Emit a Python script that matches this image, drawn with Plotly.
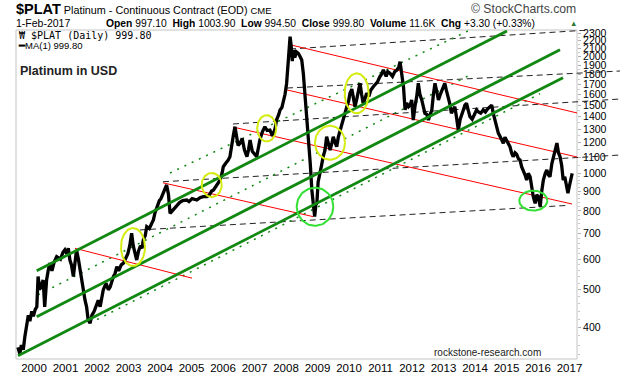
import numpy as np
import plotly.graph_objects as go

# ---------------- data ----------------
price_year = [1999.49, 1999.55, 1999.60, 1999.66, 1999.71, 1999.77, 1999.82, 1999.87, 1999.93, 1999.98,
    2000.04, 2000.09, 2000.13, 2000.18, 2000.24, 2000.29, 2000.34, 2000.40, 2000.45, 2000.50,
    2000.57, 2000.64, 2000.72, 2000.84, 2000.92, 2000.98, 2001.04, 2001.09, 2001.14, 2001.19,
    2001.25, 2001.30, 2001.35, 2001.41, 2001.46, 2001.52, 2001.57, 2001.62, 2001.67, 2001.72,
    2001.78, 2001.84, 2001.91, 2001.99, 2002.04, 2002.10, 2002.15, 2002.20, 2002.29, 2002.36,
    2002.42, 2002.47, 2002.52, 2002.57, 2002.63, 2002.69, 2002.77, 2002.84, 2002.91, 2002.98,
    2003.04, 2003.10, 2003.15, 2003.20, 2003.26, 2003.32, 2003.38, 2003.43, 2003.47, 2003.53,
    2003.58, 2003.66, 2003.73, 2003.79, 2003.84, 2003.90, 2003.98, 2004.03, 2004.10, 2004.17,
    2004.21, 2004.27, 2004.32, 2004.39, 2004.45, 2004.53, 2004.62, 2004.72, 2004.85, 2004.92,
    2005.02, 2005.17, 2005.27, 2005.37, 2005.49, 2005.57, 2005.64, 2005.70, 2005.79, 2005.91,
    2005.97, 2006.01, 2006.08, 2006.16, 2006.22, 2006.28, 2006.34, 2006.38, 2006.43, 2006.48,
    2006.54, 2006.61, 2006.68, 2006.76, 2006.81, 2006.86, 2006.93, 2006.97, 2007.07, 2007.17,
    2007.25, 2007.33, 2007.40, 2007.49, 2007.57, 2007.65, 2007.70, 2007.77, 2007.81, 2007.87,
    2007.91, 2007.97, 2008.02, 2008.07, 2008.11, 2008.13, 2008.16, 2008.20, 2008.23, 2008.28,
    2008.33, 2008.39, 2008.45, 2008.50, 2008.55, 2008.61, 2008.66, 2008.71, 2008.77, 2008.82,
    2008.87, 2008.91, 2008.95, 2008.98, 2009.02, 2009.08, 2009.13, 2009.18, 2009.24, 2009.29,
    2009.34, 2009.40, 2009.46, 2009.50, 2009.56, 2009.61, 2009.66, 2009.72, 2009.77, 2009.82,
    2009.88, 2009.93, 2009.99, 2010.03, 2010.09, 2010.13, 2010.19, 2010.25, 2010.31, 2010.35,
    2010.40, 2010.45, 2010.51, 2010.56, 2010.63, 2010.69, 2010.77, 2010.83, 2010.90, 2010.98,
    2011.03, 2011.09, 2011.18, 2011.23, 2011.30, 2011.38, 2011.45, 2011.52, 2011.58, 2011.62,
    2011.66, 2011.70, 2011.73, 2011.78, 2011.83, 2011.89, 2011.94, 2011.99, 2012.04, 2012.10,
    2012.15, 2012.20, 2012.25, 2012.31, 2012.36, 2012.41, 2012.47, 2012.52, 2012.58, 2012.63,
    2012.68, 2012.73, 2012.79, 2012.84, 2012.90, 2012.95, 2013.00, 2013.04, 2013.09, 2013.15,
    2013.21, 2013.25, 2013.31, 2013.36, 2013.41, 2013.47, 2013.53, 2013.58, 2013.63, 2013.68,
    2013.73, 2013.79, 2013.84, 2013.91, 2013.98, 2014.05, 2014.11, 2014.18, 2014.26, 2014.33,
    2014.41, 2014.48, 2014.53, 2014.58, 2014.63, 2014.69, 2014.74, 2014.80, 2014.86, 2014.90,
    2014.95, 2015.00, 2015.05, 2015.11, 2015.16, 2015.21, 2015.27, 2015.32, 2015.38, 2015.43,
    2015.48, 2015.53, 2015.59, 2015.64, 2015.69, 2015.75, 2015.80, 2015.85, 2015.91, 2015.96,
    2016.01, 2016.05, 2016.07, 2016.12, 2016.17, 2016.23, 2016.28, 2016.33, 2016.38, 2016.44,
    2016.50, 2016.55, 2016.60, 2016.65, 2016.70, 2016.75, 2016.80, 2016.85, 2016.90, 2016.95,
    2017.00, 2017.05, 2017.085]
price_usd = [355, 342, 360, 350, 378, 402, 430, 415, 440, 427,
    445, 452, 541, 500, 515, 530, 452, 530, 560, 586,
    560, 590, 609, 600, 625, 634, 620, 640, 597, 580,
    541, 600, 634, 600, 563, 530, 490, 470, 452, 418,
    410, 430, 440, 461, 470, 452, 480, 500, 520, 500,
    509, 530, 541, 550, 574, 560, 580, 586, 600, 620,
    650, 700, 650, 620, 597, 630, 650, 640, 673, 690,
    728, 720, 740, 758, 790, 820, 850, 860, 888, 910,
    933, 880, 788, 800, 810, 820, 840, 850, 853, 845,
    860, 853, 865, 870, 870, 880, 900, 906, 930, 961,
    1000, 1040, 1060, 1080, 1104, 1200, 1269, 1319, 1250, 1180,
    1195, 1230, 1150, 1104, 1150, 1219, 1140, 1130, 1104, 1219,
    1280, 1319, 1290, 1294, 1250, 1300, 1373, 1420, 1458, 1480,
    1517, 1600, 1709, 1924, 2100, 2254, 2150, 1950, 2082, 1990,
    2060, 2042, 2000, 1963, 1813, 1578, 1401, 1219, 1061, 906,
    804, 773, 830, 837, 950, 1020, 1050, 1104, 1150, 1243,
    1200, 1149, 1200, 1243, 1200, 1172, 1240, 1294, 1350, 1401,
    1450, 1486, 1540, 1610, 1650, 1578, 1486, 1560, 1650, 1709,
    1600, 1517, 1560, 1610, 1580, 1640, 1674, 1700, 1720, 1777,
    1800, 1849, 1780, 1830, 1813, 1780, 1830, 1849, 1880, 1943,
    1850, 1750, 1674, 1458, 1520, 1486, 1500, 1547, 1373, 1500,
    1578, 1709, 1600, 1547, 1480, 1429, 1420, 1373, 1420, 1458,
    1600, 1709, 1620, 1547, 1600, 1642, 1680, 1709, 1640, 1578,
    1500, 1429, 1460, 1486, 1400, 1294, 1380, 1430, 1458, 1500,
    1517, 1450, 1401, 1380, 1420, 1458, 1440, 1430, 1458, 1440,
    1470, 1486, 1500, 1429, 1380, 1319, 1270, 1243, 1210, 1195,
    1240, 1219, 1190, 1172, 1130, 1104, 1130, 1120, 1090, 1082,
    1040, 1020, 990, 961, 1000, 980, 906, 870, 836, 880,
    870, 830, 820, 900, 961, 1000, 1020, 990, 980, 1060,
    1104, 1150, 1197, 1130, 1104, 1050, 961, 980, 920, 888,
    930, 980, 1000]

# trend lines: (start year, start price, end year, end price)
green_channel = [(2000.086, 560, 2015.016, 2333),
                 (2000.086, 426, 2016.698, 2085),
                 (1999.492, 338, 2016.794, 1767)]
green_dotted = [(2004.317, 1002, 2015.841, 2804),
                (2000.127, 485, 2013.841, 1795),
                (2001.778, 410, 2016.063, 1605)]
red_lines = [(2001.302, 640, 2005.016, 536),
             (2004.095, 945, 2008.857, 773),
             (2006.317, 1317, 2017.079, 833),
             (2008.032, 1642, 2017.238, 1102),
             (2008.159, 2146, 2017.238, 1432)]
dashed_lines = [(2008.127, 2095, 2018.603, 2374),
                (2008.032, 1661, 2018.603, 1838),
                (2006.317, 1341, 2018.603, 1556),
                (2004.095, 951, 2018.603, 1115),
                (2003.365, 714, 2016.921, 826)]
# ellipses: (left year, right year, low price, high price)
yellow_ellipses = [(2002.762, 2003.524, 576, 722),
                   (2005.324, 2005.959, 869, 1002),
                   (2007.086, 2007.689, 1209, 1413),
                   (2008.921, 2009.873, 1084, 1327),
                   (2009.863, 2010.625, 1429, 1813)]
green_ellipses = [(2008.340, 2009.502, 732, 918),
                  (2015.406, 2016.295, 801, 902)]

year_ticks = list(range(2000, 2018))
price_ticks = [400, 500, 600, 700, 800, 900, 1000, 1100, 1200, 1300, 1400, 1500,
               1600, 1700, 1800, 1900, 2000, 2100, 2200, 2300]
minor_price_ticks = list(range(340, 1000, 20)) + list(range(1000, 2350, 50))

# ---------------- figure ----------------
fig = go.Figure()

def add_lines(lines, color, width, dash):
    for x0, p0, x1, p1 in lines:
        fig.add_trace(go.Scatter(x=[x0, x1], y=[p0, p1], mode="lines",
                                 line=dict(color=color, width=width, dash=dash),
                                 hoverinfo="skip"))

def add_ellipses(ells, color, width):
    t = np.linspace(0, 2 * np.pi, 80)
    for xa, xb, pl, ph in ells:
        cx, rx = (xa + xb) / 2, (xb - xa) / 2
        cl, rl = (np.log10(pl) + np.log10(ph)) / 2, (np.log10(ph) - np.log10(pl)) / 2
        fig.add_trace(go.Scatter(x=cx + rx * np.cos(t), y=10 ** (cl + rl * np.sin(t)),
                                 mode="lines", line=dict(color=color, width=width),
                                 hoverinfo="skip"))

add_lines(dashed_lines, "#222222", 1, "6px,4px")
add_lines(green_dotted, "#118811", 1.5, "2px,6px")
add_lines(red_lines, "#ff0000", 1, "solid")
fig.add_trace(go.Scatter(x=price_year, y=price_usd, mode="lines",
                         line=dict(color="black", width=3.3), hoverinfo="skip"))
add_lines(green_channel, "#118811", 2.8, "solid")
add_ellipses(yellow_ellipses, "#d4ec10", 2)
add_ellipses(green_ellipses, "#33e033", 2)

W, H = 620, 376
SL, ST, SB = 16, 30, 359          # plot left / top / bottom (px)
SR = 620                          # plotting area extends to window edge (for the dashed lines)
FRAME_R = 577                     # right edge of the framed chart (px)
pw, ph = SR - SL, SB - ST
margin = dict(l=SL, r=W - SR, t=ST, b=H - SB, autoexpand=False)
frame_pos = (FRAME_R - SL) / pw

def px(x):
    return (x - SL) / pw

def py(y):
    return (SB - y) / ph

FONT = "Arial, Liberation Sans, sans-serif"
ann = []
def text(x, y, s, size, color="black", anchor="left", family=FONT):
    ann.append(dict(x=px(x), y=py(y), xref="paper", yref="paper", text=s, showarrow=False,
                    xanchor=anchor, yanchor="middle", font=dict(size=size, color=color, family=family)))

text(14, 9, "<span style='font-size:14.5px'><b>$PLAT</b></span> Platinum - Continuous Contract (EOD) "
     "<span style='font-size:9.5px'>CME</span>", 10.8)
text(14, 23, "1-Feb-2017", 10.5)
text(104, 23, "<b>Open</b> 997.10  <b>High</b> 1003.90  <b>Low</b> 994.50  <b>Close</b> 999.80  "
     "<b>Volume</b> 11.6K  <b>Chg</b> +3.30 (+0.33%)", 10.3)
text(573, 23, "▲", 7.5, color="#2a7a2a", anchor="center")
text(578, 9, "© StockCharts.com", 12.2, color="#444444", anchor="right")
text(17, 36, "₩ $PLAT (Daily) 999.80", 10, family="DejaVu Sans Mono, monospace")
text(16, 45, "<b>━</b>MA(1) 999.80", 9.5)
text(18, 71, "<b>Platinum in USD</b>", 12.5, color="#222222")
text(432, 352, "rockstone-research.com", 10, color="#222222")

fig.update_layout(
    template="none",
    width=W, height=H, margin=margin,
    paper_bgcolor="white", plot_bgcolor="white", showlegend=False,
    annotations=ann,
    shapes=[dict(type="rect", xref="paper", yref="paper", x0=0, x1=frame_pos, y0=0, y1=1,
                 line=dict(color="#c4c4c4", width=1), layer="below")],
    xaxis=dict(range=[1999.429, 2018.603], tickvals=year_ticks, ticktext=[str(y) for y in year_ticks],
               showgrid=False, zeroline=False, showline=False, ticks="", ticklen=0, automargin=False,
               tickfont=dict(size=11.5, family=FONT, color="black")),
    yaxis=dict(type="log", side="right", anchor="free", position=frame_pos, automargin=False,
               range=[2.5202, 3.3703], tickvals=price_ticks,
               ticktext=[str(p) for p in price_ticks], showgrid=False, zeroline=False,
               showline=False, ticks="outside", ticklen=3, tickcolor="#b0b0b0",
               minor=dict(tickvals=minor_price_ticks, ticks="outside", ticklen=2, tickcolor="#c8c8c8"),
               tickfont=dict(size=10.5, family=FONT, color="black")),
)

# remove the browser's default 8px page margin so the 620x376 figure fills the window
fig.write_html("out.html", config={"displayModeBar": False, "staticPlot": True},
               post_script="document.body.style.margin='0px';")
